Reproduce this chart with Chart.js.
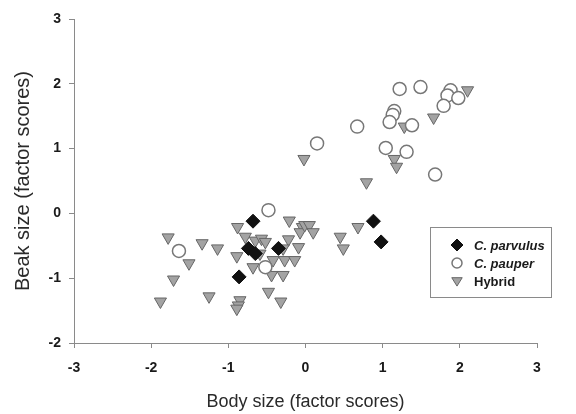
<!DOCTYPE html>
<html>
<head>
<meta charset="utf-8">
<script src="https://cdn.jsdelivr.net/npm/chart.js@4/dist/chart.umd.min.js"></script>
<style>
  html, body { margin: 0; padding: 0; background: #fff; }
  #wrap { width: 576px; height: 414px; position: relative; }
</style>
</head>
<body>
<div id="wrap"><canvas id="c" width="576" height="414"></canvas></div>
<script>
// ---- data ----
const seriesNames = ["C. parvulus", "C. pauper", "Hybrid"];

const parvulusX = [-0.68, -0.74, -0.65, -0.86, -0.35, 0.88, 0.98];
const parvulusY = [-0.12, -0.54, -0.62, -0.98, -0.54, -0.12, -0.44];

const pauperX = [0.15, 0.67, 1.22, 1.49, 1.15, 1.13, 1.09, 1.38, 1.04, 1.31, 1.68, 1.88, 1.84, 1.98, 1.79, -0.48, -1.64, -0.52];
const pauperY = [1.08, 1.34, 1.92, 1.95, 1.58, 1.52, 1.41, 1.36, 1.01, 0.95, 0.60, 1.90, 1.82, 1.78, 1.66, 0.05, -0.58, -0.83];

const hybridX = [-1.78, -1.34, -1.14, -1.51, -1.71, -1.88, -1.25, -0.88, -0.89, -0.85, -0.87, -0.89,
                 -0.21, -0.04, -0.07, -0.78, -0.65, -0.57, -0.52, -0.59, -0.22, -0.09, -0.29,
                 -0.42, -0.27, -0.14, -0.68, -0.44, -0.29, -0.48, -0.32, -0.01, 0.05, 0.10,
                 0.68, 0.45, 0.49, 0.79, -0.02, 1.28, 1.15, 1.18, 1.66, 2.10];
const hybridY = [-0.37, -0.46, -0.54, -0.77, -1.02, -1.36, -1.28, -0.21, -0.66, -1.34, -1.42, -1.47,
                 -0.11, -0.21, -0.29, -0.36, -0.42, -0.39, -0.44, -0.62, -0.40, -0.52, -0.54,
                 -0.72, -0.72, -0.72, -0.83, -0.95, -0.95, -1.21, -1.36, -0.18, -0.18, -0.29,
                 -0.21, -0.36, -0.54, 0.48, 0.84, 1.34, 0.84, 0.72, 1.48, 1.90];

const xTicks = [-3, -2, -1, 0, 1, 2, 3];
const yTicks = [-2, -1, 0, 1, 2, 3];
const xTitle = "Body size (factor scores)";
const yTitle = "Beak size (factor scores)";

function pts(xs, ys) { return xs.map((x, i) => ({ x: x, y: ys[i] })); }

const styles = [
  { pointStyle: 'rectRot', radius: 7, bg: '#111111', border: '#111111', bw: 1, rot: 0 },
  { pointStyle: 'circle', radius: 6.5, bg: '#ffffff', border: '#777777', bw: 1.5, rot: 0 },
  { pointStyle: 'triangle', radius: 7, bg: '#a3a3a3', border: '#666666', bw: 1, rot: 180 }
];
const datasets = [
  { label: seriesNames[2], data: pts(hybridX, hybridY), s: styles[2], order: 3 },
  { label: seriesNames[1], data: pts(pauperX, pauperY), s: styles[1], order: 2 },
  { label: seriesNames[0], data: pts(parvulusX, parvulusY), s: styles[0], order: 1 }
].map(d => ({
  label: d.label,
  data: d.data,
  order: d.order,
  pointStyle: d.s.pointStyle,
  pointRadius: d.s.radius,
  pointHoverRadius: d.s.radius,
  pointRotation: d.s.rot,
  backgroundColor: d.s.bg,
  borderColor: d.s.border,
  pointBorderWidth: d.s.bw,
  borderWidth: d.s.bw
}));

const FONT = "'Liberation Sans', Arial, Helvetica, sans-serif";

const legendPlugin = {
  id: 'boxLegend',
  afterDraw(chart) {
    const ctx = chart.ctx;
    ctx.save();
    const bx = 430.5, by = 227.5, bw = 121, bh = 70;
    ctx.fillStyle = '#fff';
    ctx.fillRect(bx, by, bw, bh);
    ctx.strokeStyle = '#8a8a8a';
    ctx.lineWidth = 1;
    ctx.strokeRect(bx, by, bw, bh);
    const rows = [
      { name: seriesNames[0], s: styles[0], y: 245, font: 'italic bold 13px ' + FONT },
      { name: seriesNames[1], s: styles[1], y: 263, font: 'italic bold 13px ' + FONT },
      { name: seriesNames[2], s: styles[2], y: 281, font: 'bold 13px ' + FONT }
    ];
    const mx = 457;
    rows.forEach(r => {
      ctx.beginPath();
      ctx.fillStyle = r.s.bg;
      ctx.strokeStyle = r.s.border;
      ctx.lineWidth = r.s.bw;
      const rr = r.s.radius - 1;
      if (r.s.pointStyle === 'rectRot') {
        ctx.moveTo(mx, r.y - rr); ctx.lineTo(mx + rr, r.y); ctx.lineTo(mx, r.y + rr); ctx.lineTo(mx - rr, r.y); ctx.closePath();
      } else if (r.s.pointStyle === 'circle') {
        ctx.arc(mx, r.y, rr - 0.5, 0, Math.PI * 2);
      } else {
        ctx.moveTo(mx - rr * 0.87, r.y - rr * 0.55); ctx.lineTo(mx + rr * 0.87, r.y - rr * 0.55); ctx.lineTo(mx, r.y + rr * 0.85); ctx.closePath();
      }
      ctx.fill(); ctx.stroke();
      ctx.fillStyle = '#1a1a1a';
      ctx.font = r.font;
      ctx.textBaseline = 'middle';
      ctx.textAlign = 'left';
      ctx.fillText(r.name, 474, r.y + 1);
    });
    ctx.restore();
  }
};

new Chart(document.getElementById('c'), {
  type: 'scatter',
  data: { datasets: datasets },
  options: {
    responsive: false,
    animation: false,
    devicePixelRatio: 1,
    layout: { padding: { top: 19, right: 39, left: 0, bottom: 0 } },
    plugins: { legend: { display: false }, tooltip: { enabled: false } },
    scales: {
      x: {
        type: 'linear', min: -3, max: 3,
        afterBuildTicks: s => { s.ticks = xTicks.map(v => ({ value: v })); },
        afterFit: s => { s.height = 71; },
        grid: { drawOnChartArea: false, drawTicks: true, tickLength: 5, color: '#8a8a8a' },
        border: { display: true, color: '#8a8a8a', width: 1 },
        ticks: { padding: 12, color: '#1a1a1a', font: { family: FONT, size: 14, weight: 'bold' }, maxRotation: 0 },
        title: { display: true, text: xTitle, color: '#2a2a2a', font: { family: FONT, size: 18 }, padding: { top: 0, bottom: 1 } }
      },
      y: {
        type: 'linear', min: -2, max: 3,
        afterBuildTicks: s => { s.ticks = yTicks.map(v => ({ value: v })); },
        afterFit: s => { s.width = 74; },
        grid: { drawOnChartArea: false, drawTicks: true, tickLength: 5, color: '#8a8a8a' },
        border: { display: true, color: '#8a8a8a', width: 1 },
        ticks: { padding: 8, color: '#1a1a1a', font: { family: FONT, size: 14, weight: 'bold' } },
        title: { display: true, text: yTitle, color: '#2a2a2a', font: { family: FONT, size: 20 }, padding: { top: 11, bottom: 0 } }
      }
    }
  },
  plugins: [legendPlugin]
});
</script>
</body>
</html>
